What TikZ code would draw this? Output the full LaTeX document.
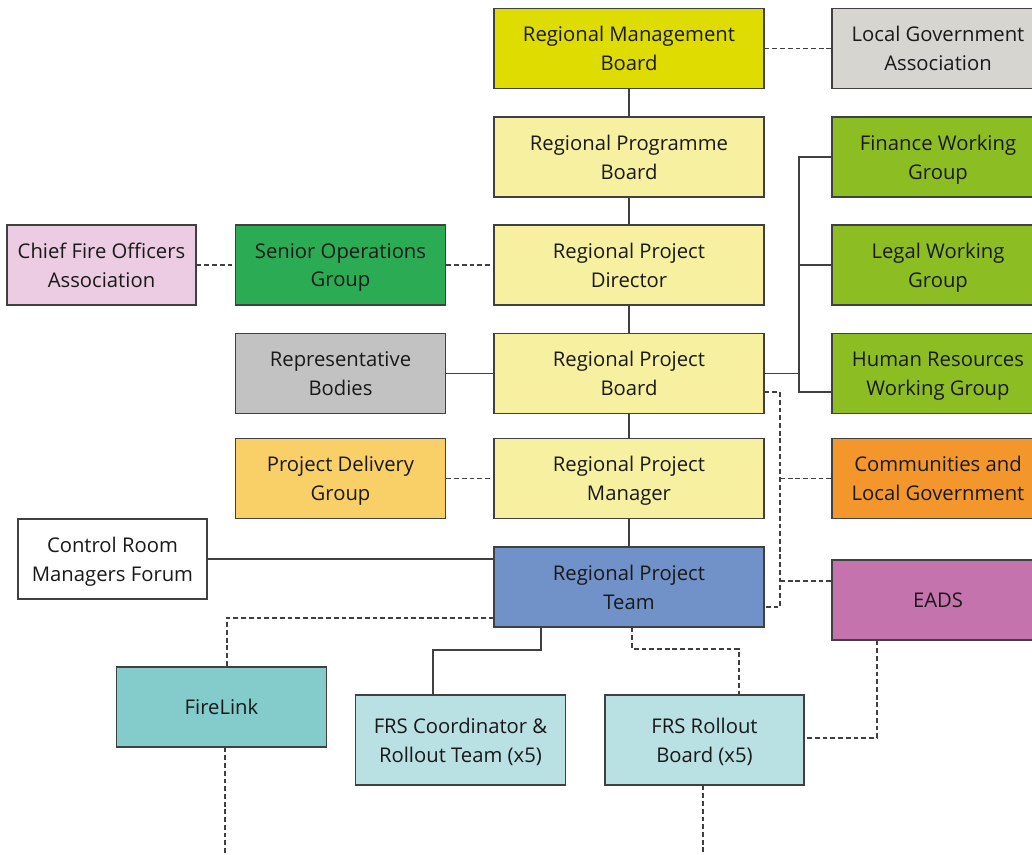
\documentclass[tikz,border=0pt]{standalone}
\usepackage{fontspec}
\setmainfont{Open Sans}
\usepackage{xcolor}
\usepackage{tikz}
\definecolor{mgmt}{RGB}{222,220,0}
\definecolor{paleyel}{RGB}{247,240,160}
\definecolor{lgagrey}{RGB}{214,213,208}
\definecolor{wgreen}{RGB}{140,190,35}
\definecolor{cfopink}{RGB}{235,204,227}
\definecolor{sogreen}{RGB}{43,171,84}
\definecolor{repgrey}{RGB}{194,194,194}
\definecolor{pdorange}{RGB}{249,208,103}
\definecolor{clgorange}{RGB}{243,150,44}
\definecolor{teamblue}{RGB}{112,146,201}
\definecolor{eadspink}{RGB}{196,115,173}
\definecolor{fireteal}{RGB}{132,203,203}
\definecolor{frsblue}{RGB}{185,224,226}
\definecolor{edge}{RGB}{64,64,64}
\tikzset{
    box/.style = {rectangle, draw=edge, line width=0.9pt, align=center, inner sep=0pt,
                  font=\fontsize{15.2}{21.5}\selectfont, text=black!90, minimum height=60pt,
                  text depth=0pt},
    mid_box/.style = {box, minimum width=202.5pt},
    side_box/.style = {box, minimum width=158pt},
    right_box/.style = {box, minimum width=159pt},
    link/.style = {draw=edge, line width=0.8pt},
    dlink/.style = {link, dash pattern=on 3.6pt off 2.2pt}
}
\begin{document}
\begin{tikzpicture}[x=0.75pt, y=-0.75pt]
    \useasboundingbox (0,0) rectangle (1032,854);
    \clip (0,0) rectangle (1032,854);

    % centre column
    \node [mid_box, fill=mgmt] (rmb) at (629,48.5) {Regional Management\\Board};
    \node [mid_box, fill=paleyel] (rpgb) at (629,157) {Regional Programme\\Board};
    \node [mid_box, fill=paleyel] (rpd) at (629,265) {Regional Project\\Director};
    \node [mid_box, fill=paleyel] (rpbd) at (629,373.5) {Regional Project\\Board};
    \node [mid_box, fill=paleyel] (rpm) at (629,478.5) {Regional Project\\Manager};
    \node [mid_box, fill=teamblue] (rpt) at (629,587) {Regional Project\\Team};

    % right column
    \node [right_box, fill=lgagrey] (lga) at (938,48.5) {Local Government\\Association};
    \node [right_box, fill=wgreen] (fwg) at (938,157) {Finance Working\\Group};
    \node [right_box, fill=wgreen] (lwg) at (938,265) {Legal Working\\Group};
    \node [right_box, fill=wgreen] (hrwg) at (938,373.5) {Human Resources\\Working Group};
    \node [right_box, fill=clgorange] (clg) at (938,478.5) {Communities and\\Local Government};
    \node [right_box, fill=eadspink] (eads) at (938,600) {EADS};

    % left side
    \node [box, minimum width=141.75pt, fill=cfopink] (cfoa) at (101.5,265) {Chief Fire Officers\\Association};
    \node [side_box, fill=sogreen] (sog) at (340.5,265) {Senior Operations\\Group};
    \node [side_box, fill=repgrey] (rb) at (340.5,373.5) {Representative\\Bodies};
    \node [side_box, fill=pdorange] (pdg) at (340.5,478.5) {Project Delivery\\Group};
    \node [box, minimum width=141.75pt, fill=white] (crmf) at (112.5,559) {Control Room\\Managers Forum};

    % bottom row
    \node [side_box, fill=fireteal] (fl) at (221.5,707) {FireLink};
    \node [side_box, minimum height=67.5pt, fill=frsblue] (frsc) at (460.5,740) {FRS Coordinator \&\\Rollout Team (x5)};
    \node [box, minimum width=149.25pt, minimum height=67.5pt, fill=frsblue] (frsr) at (704.5,740) {FRS Rollout\\Board (x5)};

    % solid lines
    \draw [link] (rmb) -- (rpgb);
    \draw [link] (rpgb) -- (rpd);
    \draw [link] (rpd) -- (rpbd);
    \draw [link] (rpbd) -- (rpm);
    \draw [link] (rpm) -- (rpt);
    \draw [link] (rb) -- (rpbd);
    \draw [link] (crmf.east) -- (crmf.east -| rpt.west);

    \coordinate (bt) at (799,157);
    \coordinate (bb) at (799,392);
    \draw [link] (rpbd.east) -- (rpbd.east -| bt);
    \draw [link] (fwg.west) -- (bt) -- (bb) -- (hrwg.west |- bb);
    \draw [link] (lwg.west) -- (lwg.west -| bt);

    \coordinate (ck) at (541,650);
    \coordinate (ck2) at (433,650);
    \draw [link] (ck |- rpt.south) -- (ck) -- (ck2) -- (ck2 |- frsc.north);

    % dashed lines
    \draw [dlink] (rmb) -- (lga);
    \draw [dlink] (cfoa) -- (sog);
    \draw [dlink] (sog) -- (rpd);
    \draw [dlink] (pdg) -- (rpm);

    \coordinate (dt) at (780,392);
    \coordinate (db) at (780,607);
    \coordinate (de) at (780,581);
    \draw [dlink] (rpbd.east |- dt) -- (dt) -- (db) -- (rpt.east |- db);
    \draw [dlink] (dt |- clg.west) -- (clg.west);
    \draw [dlink] (de) -- (eads.west |- de);

    \coordinate (fk) at (227,618);
    \draw [dlink] (fk -| rpt.west) -- (fk) -- (fk |- fl.north);
    \coordinate (flend) at (225,860);
    \draw [dlink] (flend |- fl.south) -- (flend);

    \coordinate (rk) at (632,649);
    \coordinate (rk2) at (739,649);
    \draw [dlink] (rk |- rpt.south) -- (rk) -- (rk2) -- (rk2 |- frsr.north);

    \coordinate (ek) at (877,738);
    \draw [dlink] (ek |- eads.south) -- (ek) -- (ek -| frsr.east);
    \coordinate (rend) at (703,860);
    \draw [dlink] (rend |- frsr.south) -- (rend);
\end{tikzpicture}
\end{document}
